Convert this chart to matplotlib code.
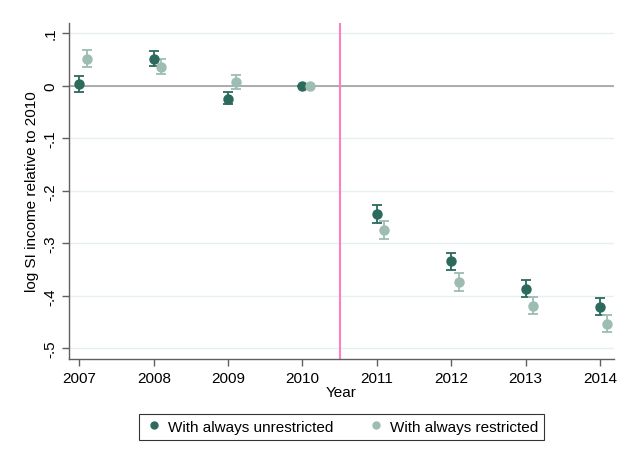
import matplotlib
matplotlib.use("Agg")
import matplotlib.pyplot as plt
from matplotlib.lines import Line2D
import numpy as np

plt.rcParams["font.family"] = ["Liberation Sans", "DejaVu Sans"]

years = [2007, 2008, 2009, 2010, 2011, 2012, 2013, 2014]

# with always unrestricted: estimate, lower CI, upper CI
unres = [0.003, 0.051, -0.025, 0.0, -0.245, -0.334, -0.386, -0.421]
unres_lo = [-0.012, 0.037, -0.036, 0.0, -0.262, -0.350, -0.402, -0.437]
unres_hi = [0.018, 0.065, -0.013, 0.0, -0.228, -0.318, -0.370, -0.404]

# with always restricted
res = [0.050, 0.036, 0.007, 0.0, -0.274, -0.374, -0.419, -0.453]
res_lo = [0.035, 0.022, -0.006, 0.0, -0.291, -0.391, -0.435, -0.469]
res_hi = [0.067, 0.051, 0.020, 0.0, -0.257, -0.357, -0.402, -0.436]

yticks = [0.1, 0, -0.1, -0.2, -0.3, -0.4, -0.5]
ytick_labels = [".1", "0", "-.1", "-.2", "-.3", "-.4", "-.5"]

DARK = "#2b6a5c"
LIGHT = "#9dbdb3"

fig = plt.figure(figsize=(6.24, 4.6), dpi=100)
ax = fig.add_axes([0.1106, 0.2174, 0.8734, 0.7306])

x = np.array(years, dtype=float)
series = [
    (x, unres, unres_lo, unres_hi, DARK, "With always unrestricted"),
    (x + 0.1, res, res_lo, res_hi, LIGHT, "With always restricted"),
]
handles = []
for xs, y, lo, hi, col, lab in series:
    y = np.array(y)
    err = [y - np.array(lo), np.array(hi) - y]
    ax.errorbar(xs, y, yerr=err, fmt="o", color=col, ms=6.5, capsize=3.5,
                elinewidth=1.3, capthick=1.3, zorder=3)
    handles.append(Line2D([], [], ls="none", marker="o", color=col, ms=5, label=lab))

ax.axhline(0, color="#a0a0a0", lw=1.2, zorder=1)
ax.axvline(2010.5, color="#ff80c0", lw=1.5, zorder=2)

ax.set_xlim(2006.86, 2014.19)
ax.set_ylim(-0.52, 0.119)
ax.set_xticks(years)
ax.set_xticklabels([str(y) for y in years], fontsize=11)
ax.set_yticks(yticks)
ax.set_yticklabels(ytick_labels, fontsize=11, rotation=90, va="center")
ax.yaxis.grid(True, color="#e6eff1", lw=1.0, zorder=0)
ax.set_axisbelow(True)

for s in ["top", "right"]:
    ax.spines[s].set_visible(False)
for s in ["left", "bottom"]:
    ax.spines[s].set_color("#606060")
    ax.spines[s].set_linewidth(1.0)
ax.tick_params(colors="#606060", labelcolor="black", length=5, width=1.0)

ax.set_xlabel("Year", fontsize=11, labelpad=0)
ax.set_ylabel("log SI income relative to 2010", fontsize=11, labelpad=3)

leg = ax.legend(handles=handles, loc="upper center", bbox_to_anchor=(0.5, -0.14), ncol=2,
                frameon=True, fancybox=False, fontsize=11, handletextpad=0.3,
                handlelength=1.2, columnspacing=2.2, borderpad=0.4)
leg.get_frame().set_edgecolor("black")
leg.get_frame().set_linewidth(0.8)

fig.savefig("out.png", dpi=100)
